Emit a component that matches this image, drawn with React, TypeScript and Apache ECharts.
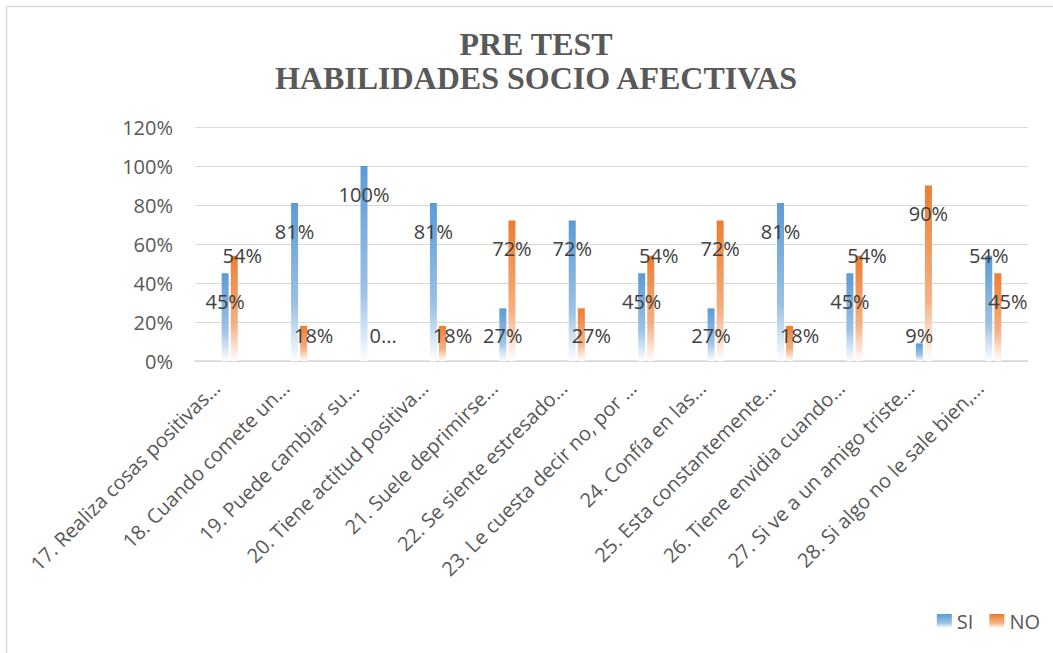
import React, { useEffect, useRef } from "react";
import * as echarts from "echarts";

const titleLines = ["PRE TEST", "HABILIDADES SOCIO AFECTIVAS"];

const categories = [
  "17. Realiza cosas positivas...",
  "18. Cuando comete un...",
  "19. Puede cambiar su...",
  "20. Tiene actitud positiva...",
  "21. Suele deprimirse...",
  "22. Se siente estresado...",
  "23. Le cuesta decir no, por ...",
  "24. Confía en las...",
  "25. Esta constantemente...",
  "26. Tiene envidia cuando...",
  "27. Si ve a un amigo triste...",
  "28. Si algo no le sale bien,...",
];

const seriesNames = ["SI", "NO"];
const siValues = [45, 81, 100, 81, 27, 72, 45, 27, 81, 45, 9, 54];
const noValues = [54, 18, 0, 18, 72, 27, 54, 72, 18, 54, 90, 45];

const yMin = 0;
const yMax = 120;
const yStep = 20;

const FONT = "'Open Sans', 'Noto Sans', sans-serif";

function labelFor(v: number, other: number, isNo: boolean) {
  const base: any = {
    show: true,
    fontFamily: FONT,
    fontSize: 20,
    color: "#404040",
    align: "center",
    verticalAlign: "middle",
    formatter: v === 0 ? "0..." : v + "%",
  };
  if (v < 30) {
    return { ...base, position: "insideBottom", distance: 26, offset: [isNo ? 10 : 0, 0] };
  }
  if (v > other && v - other < 15) {
    return { ...base, position: "top", distance: 0, offset: [isNo ? 8 : 0, 0] };
  }
  return { ...base, position: "insideTop", distance: 28, offset: [isNo && v < 50 ? 10 : 0, 0] };
}

function gradient(top: string, mid: string) {
  return new echarts.graphic.LinearGradient(0, 0, 0, 1, [
    { offset: 0, color: top },
    { offset: 0.65, color: mid },
    { offset: 1, color: "#FFFFFF" },
  ]);
}

export default function App() {
  const ref = useRef<HTMLDivElement>(null);
  useEffect(() => {
    if (!ref.current) return;
    const chart = echarts.init(ref.current, undefined, { renderer: "svg" });
    const siColor = gradient("#5B9BD5", "#9CC2E6");
    const noColor = gradient("#ED7D31", "#F4B183");
    chart.setOption({
      animation: false,
      backgroundColor: "#FFFFFF",
      title: {
        text: titleLines.join("\n"),
        left: 531,
        textAlign: "center",
        top: 22,
        textStyle: {
          fontFamily: "'Liberation Serif', 'DejaVu Serif', serif",
          fontSize: 32,
          fontWeight: "bold",
          color: "#595959",
          lineHeight: 34,
        },
      },
      graphic: [
        {
          type: "rect",
          shape: { x: 6.5, y: 6.5, width: 1100, height: 700 },
          style: { fill: "none", stroke: "#D9D9D9", lineWidth: 1.5 },
          silent: true,
        },
      ],
      legend: {
        data: seriesNames,
        right: 8,
        top: 606,
        icon: "rect",
        itemWidth: 15,
        itemHeight: 14,
        itemGap: 16,
        textStyle: { fontFamily: FONT, fontSize: 20, color: "#595959" },
      },
      grid: { left: 195, right: 25, top: 127, bottom: 292, containLabel: false },
      xAxis: {
        type: "category",
        data: categories,
        axisLine: { lineStyle: { color: "#D9D9D9", width: 1.5 } },
        axisTick: { show: false },
        axisLabel: {
          interval: 0,
          rotate: 45,
          margin: 10,
          padding: [0, 19, 38, 0],
          fontFamily: FONT,
          fontSize: 20,
          color: "#595959",
        },
      },
      yAxis: {
        type: "value",
        min: yMin,
        max: yMax,
        interval: yStep,
        axisLine: { show: false },
        axisTick: { show: false },
        axisLabel: {
          formatter: "{value}%",
          margin: 22,
          fontFamily: FONT,
          fontSize: 20,
          color: "#595959",
        },
        splitLine: { lineStyle: { color: "#D9D9D9", width: 1 } },
      },
      series: [
        {
          name: seriesNames[0],
          type: "bar",
          barWidth: 7,
          barGap: "30%",
          itemStyle: { color: siColor },
          data: siValues.map((v, i) => ({ value: v, label: labelFor(v, noValues[i], false) })),
        },
        {
          name: seriesNames[1],
          type: "bar",
          barWidth: 7,
          barGap: "30%",
          itemStyle: { color: noColor },
          data: noValues.map((v, i) => ({ value: v, label: labelFor(v, siValues[i], true) })),
        },
      ],
    });
    return () => chart.dispose();
  }, []);
  return (
    <div
      ref={ref}
      style={{ position: "fixed", left: 0, top: 0, width: 1053, height: 653, background: "#fff" }}
    />
  );
}
